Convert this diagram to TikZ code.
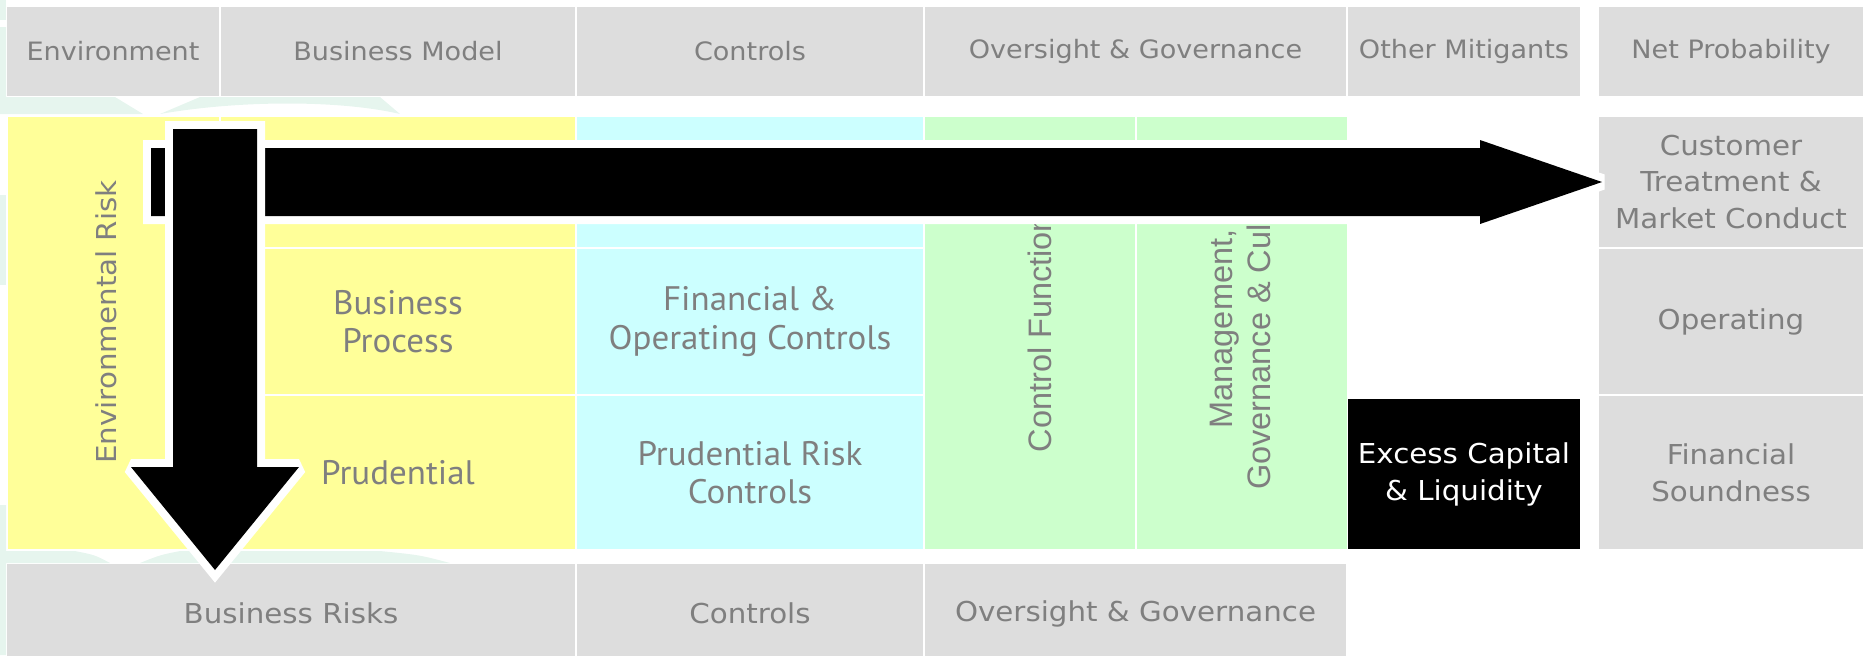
\documentclass[tikz,border=0pt]{standalone}
\usepackage{fontspec}
\setmainfont{DejaVu Sans}[FakeStretch=1.07]
\newfontfamily\condfont{PT Sans}[FakeStretch=1.03]
\newfontfamily\arialfont{Liberation Sans}

\definecolor{hdrgray}{HTML}{DDDDDD}
\definecolor{txtgray}{HTML}{7F7F7F}
\definecolor{riskyel}{HTML}{FFFF99}
\definecolor{ctlcyan}{HTML}{CCFFFF}
\definecolor{govgreen}{HTML}{CCFFCC}
\definecolor{wmgreen}{HTML}{E6F5EE}

% name, x1, y1, x2, y2, style, text  (pixel coordinates, y downwards)
\newcommand\cellbox[7]{%
  \node[#6, minimum width={(#4-#2)*0.5pt}, minimum height={(#5-#3)*0.5pt}]
    (#1) at ({(#2+#4)/2},{(#3+#5)/2}) {#7};}

\begin{document}
\begin{tikzpicture}[x=0.5pt,y=-0.5pt,
  cell/.style={inner sep=0pt, outer sep=0pt, align=center, text=txtgray},
  hdr/.style={cell, fill=hdrgray, font=\fontsize{12.65}{16}\selectfont},
  outcome/.style={cell, fill=hdrgray, font=\fontsize{13.7}{18.35}\selectfont},
  riskcell/.style={cell, fill=riskyel, font=\condfont\fontsize{17}{19.2}\selectfont},
  ctlcell/.style={cell, fill=ctlcyan, font=\condfont\fontsize{17}{19.2}\selectfont},
  govcell/.style={cell, fill=govgreen},
  capcell/.style={cell, fill=black, text=white, font=\fontsize{13.7}{18.5}\selectfont},
  vlabel/.style={inner sep=0pt, align=center, text=txtgray, rotate=90},
  blockarrow/.style={fill=black},
  arrowhalo/.style={draw=white, line width=8pt, line join=miter, miter limit=2}
]
\useasboundingbox (0,0) rectangle (1863,655);

% faint background swooshes
\fill[wmgreen] (0,0) rectangle (6,20);
\fill[wmgreen] (0,27) -- (6,27) -- (6,97) -- (115,97) -- (143,114) -- (0,114) -- cycle;
\fill[wmgreen] (160,114) -- (200,97) -- (380,97) -- (400,114)
  .. controls (340,100) and (240,100) .. (160,114) -- cycle;
\fill[wmgreen] (0,195) rectangle (6,285);
\fill[wmgreen] (0,505) -- (6,505) -- (6,551) -- (75,551) .. controls (95,555) .. (110,563) -- (6,563) -- (6,655) -- (0,655) -- cycle;
\fill[wmgreen] (140,563) .. controls (160,555) .. (180,551) -- (380,551) .. controls (420,555) .. (450,563) -- cycle;

% header row
\cellbox{hEnv}{7}{7}{219}{96}{hdr}{Environment}
\cellbox{hBM}{221}{7}{575}{96}{hdr}{Business Model}
\cellbox{hCtl}{577}{7}{923}{96}{hdr}{Controls}
\cellbox{hGov}{925}{7}{1346}{96}{hdr}{Oversight \& Governance}
\cellbox{hOth}{1348}{7}{1580}{96}{hdr}{Other Mitigants}
\cellbox{hNet}{1599}{7}{1863}{96}{hdr}{Net Probability}

% environment column
\cellbox{envRisk}{8}{117}{219}{549}{riskcell}{}
\node[vlabel, font=\fontsize{13.7}{16}\selectfont] (envLabel) at (106,322) {Environmental Risk};

% business model column
\cellbox{bmTop}{221}{117}{575}{247}{riskcell}{}
\cellbox{bmProc}{221}{249}{575}{394}{riskcell}{Business\\Process}
\cellbox{bmPrud}{221}{396}{575}{549}{riskcell}{Prudential}

% controls column
\cellbox{ctlTop}{577}{117}{923}{247}{ctlcell}{}
\cellbox{ctlFin}{577}{249}{923}{394}{ctlcell}{Financial \&\\Operating Controls}
\cellbox{ctlPrud}{577}{396}{923}{549}{ctlcell}{Prudential Risk\\Controls}

% oversight and governance columns
\cellbox{govCF}{925}{117}{1135}{549}{govcell}{}
\cellbox{govMG}{1137}{117}{1347}{549}{govcell}{}
\node[vlabel, font=\arialfont\fontsize{16.25}{19}\selectfont] (cfLabel) at (1040,325) {Control Functions};
\node[vlabel, font=\arialfont\fontsize{16.25}{19}\selectfont] (mgLabel) at (1240,329) {Management,\\Governance \& Culture};

% other mitigants
\cellbox{capLiq}{1348}{399}{1580}{549}{capcell}{Excess Capital\\\& Liquidity}

% net probability column
\cellbox{netCust}{1599}{117}{1863}{247}{outcome}{Customer\\Treatment \&\\Market Conduct}
\cellbox{netOp}{1599}{249}{1863}{394}{outcome}{Operating}
\cellbox{netFin}{1599}{396}{1863}{549}{outcome}{Financial\\Soundness}

% bottom row (runs off the lower edge of the page)
\cellbox{bRisk}{7}{564}{575}{663}{outcome}{Business Risks}
\cellbox{bCtl}{577}{564}{923}{663}{outcome}{Controls}
\cellbox{bGov}{925}{564}{1346}{663}{outcome}{Oversight \& Governance}

% horizontal block arrow towards customer treatment
\coordinate (hTip) at (1602,182);
\path[arrowhalo] (151,148) -- (1480,148) -- (1480,140) -- (hTip) -- (1480,224) -- (1480,216) -- (151,216) -- cycle;
\path[blockarrow] (151,148) -- (1480,148) -- (1480,140) -- (hTip) -- (1480,224) -- (1480,216) -- (151,216) -- cycle;

% vertical block arrow towards business risks
\coordinate (vTip) at (215,570);
\path[arrowhalo] (173,129) -- (257,129) -- (257,467) -- (299,467) -- (vTip) -- (131,467) -- (173,467) -- cycle;
\path[blockarrow] (173,129) -- (257,129) -- (257,467) -- (299,467) -- (vTip) -- (131,467) -- (173,467) -- cycle;
\end{tikzpicture}
\end{document}
